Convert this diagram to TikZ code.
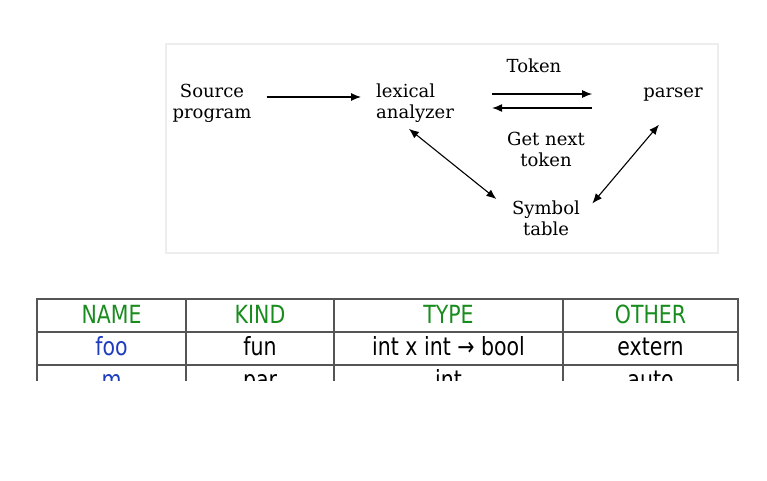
\documentclass[tikz,border=0pt]{standalone}
\usepackage{fontspec}
\setmainfont{DejaVu Serif}
\newfontfamily\tabfont[FakeStretch=0.82]{DejaVu Sans}
\usepackage{xcolor}
\usetikzlibrary{arrows.meta, positioning, calc}
\definecolor{headgreen}{RGB}{25,140,30}
\definecolor{idblue}{RGB}{30,60,190}
\definecolor{rulegray}{RGB}{85,85,85}

\begin{document}
\begin{tikzpicture}[
    x=1pt, y=-1pt,
    >={Latex[length=10pt,width=8pt]},
    word/.style={inner sep=0pt, align=center, font=\fontsize{18}{21}\selectfont},
    flow/.style={draw=black, line width=1.1pt, ->},
    both/.style={draw=black, line width=1.1pt, <->},
    rule/.style={draw=rulegray, line width=1.3pt},
    cell/.style={anchor=base, inner sep=0pt, font=\tabfont\fontsize{25}{25}\selectfont},
    head/.style={cell, text=headgreen}
]
    \useasboundingbox (0,0) rectangle (767,480);

    % Frame of the upper picture
    \draw[gray!14, line width=2.5pt] (166,44) rectangle (718,253);

    % Place words
    \node[word] (src) at (212,103) {Source\\program};
    \node[word, align=left, anchor=west] (lex) at (376,103) {lexical\\analyzer};
    \node[word, anchor=base] (tok) at (534,72) {Token};
    \node[word, anchor=base] (parser) at (673,97) {parser};
    \node[word] (next) at (546,149) {Get next\\token};
    \node[word] (sym) at (546,218) {Symbol\\table};

    % Arrows between the words
    \draw[flow, shorten <=15pt, shorten >=15pt] ([yshift=6pt]src.east) -- ([yshift=6pt]lex.west);
    \draw[flow, shorten <=38pt, shorten >=51pt] ([yshift=9pt]lex.east) -- ([yshift=9pt]lex.east -| parser.west);
    \draw[flow, shorten <=51pt, shorten >=38pt] ([yshift=-5pt]lex.east -| parser.west) -- ([yshift=-5pt]lex.east);
    \draw[both, shorten <=10pt, shorten >=2pt] ([xshift=-14pt]lex.south) -- ([xshift=-14pt]sym.north west);
    \draw[both, shorten <=31pt, shorten >=19pt] ([xshift=6pt]parser.south) -- (sym.east);

    % Symbol table, cut off below the second row
    \begin{scope}
        \clip (0,0) rectangle (767,380);
        \draw[rule] (37,299) rectangle (738,420);
        \draw[rule] (37,332) -- (738,332);
        \draw[rule] (37,365) -- (738,365);
        \foreach \x in {186,334,563}
            \draw[rule] (\x,299) -- (\x,420);

        \node[head] (hname) at (111.5,323) {NAME};
        \node[head] (hkind) at (260,323) {KIND};
        \node[head] (htype) at (448.5,323) {TYPE};
        \node[head] (hother) at (650.5,323) {OTHER};

        \node[cell, text=idblue] (fooname) at (111.5,355) {foo};
        \node[cell] (fookind) at (260,355) {fun};
        \node[cell] (footype) at (448.5,355) {int x int → bool};
        \node[cell] (fooother) at (650.5,355) {extern};

        \node[cell, text=idblue] (mname) at (111.5,388) {m};
        \node[cell] (mkind) at (260,388) {par};
        \node[cell] (mtype) at (448.5,388) {int};
        \node[cell] (mother) at (650.5,388) {auto};
    \end{scope}

\end{tikzpicture}
\end{document}
